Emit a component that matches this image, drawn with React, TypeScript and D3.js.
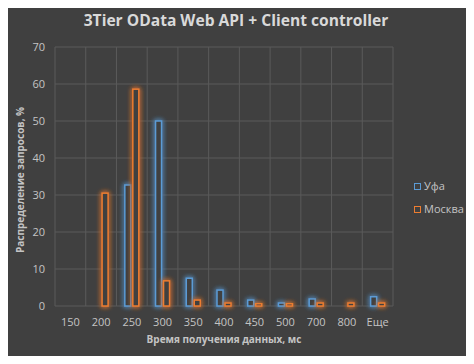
import { useEffect, useRef } from 'react'
import * as d3 from 'd3'

const categories = ['150', '200', '250', '300', '350', '400', '450', '500', '700', '800', 'Еще']
const ufa = [0, 0, 32.7, 50, 7.5, 4.3, 1.6, 0.8, 1.9, 0, 2.5]
const moscow = [0, 30.5, 58.6, 6.8, 1.6, 0.8, 0.6, 0.6, 0.8, 0.8, 0.8]
const seriesNames = ['Уфа', 'Москва']
const colors = ['#5B9BD5', '#ED7D31']
const yTicks = [0, 10, 20, 30, 40, 50, 60, 70]

const W = 474
const H = 364

export default function App() {
  const svgRef = useRef<SVGSVGElement>(null)

  useEffect(() => {
    const svg = d3.select(svgRef.current!)
    svg.selectAll('*').remove()

    const margin = { top: 47, right: 81, bottom: 58, left: 55 }
    const innerW = W - margin.left - margin.right
    const innerH = H - margin.top - margin.bottom
    const font = "'Open Sans', sans-serif"

    svg.append('rect').attr('width', W).attr('height', H).attr('fill', '#404040')

    // soft glow around the bars
    const defs = svg.append('defs')
    colors.forEach((c, i) => {
      const f = defs.append('filter').attr('id', `glow${i}`)
        .attr('x', '-100%').attr('y', '-20%').attr('width', '300%').attr('height', '140%')
      f.append('feGaussianBlur').attr('in', 'SourceGraphic').attr('stdDeviation', 2.8).attr('result', 'b')
      const m = f.append('feMerge')
      m.append('feMergeNode').attr('in', 'b')
      m.append('feMergeNode').attr('in', 'b')
      m.append('feMergeNode').attr('in', 'SourceGraphic')
    })

    const x = d3.scaleBand().domain(categories).range([0, innerW])
    const y = d3.scaleLinear().domain([0, 70]).range([innerH, 0])

    const g = svg.append('g').attr('transform', `translate(${margin.left},${margin.top})`)

    // Gridlines
    g.append('g')
      .selectAll('line')
      .data(yTicks)
      .join('line')
      .attr('x1', 0).attr('x2', innerW)
      .attr('y1', d => y(d)).attr('y2', d => y(d))
      .style('stroke', '#5a5a5a').style('stroke-width', 1)

    const vLines = [...categories.map(c => x(c)!), innerW]
    g.append('g')
      .selectAll('line')
      .data(vLines)
      .join('line')
      .attr('x1', d => d).attr('x2', d => d)
      .attr('y1', 0).attr('y2', innerH)
      .style('stroke', '#5a5a5a').style('stroke-width', 1)

    // Y axis labels
    g.append('g')
      .selectAll('text')
      .data(yTicks)
      .join('text')
      .attr('x', -10)
      .attr('y', d => y(d))
      .attr('dy', '0.35em')
      .attr('text-anchor', 'end')
      .style('fill', '#c4c4c4')
      .style('font-size', '11px')
      .style('font-family', font)
      .text(d => d)

    // X axis labels
    g.append('g')
      .selectAll('text')
      .data(categories)
      .join('text')
      .attr('x', d => x(d)! + x.bandwidth() / 2)
      .attr('y', innerH + 16)
      .attr('dy', '0.35em')
      .attr('text-anchor', 'middle')
      .style('fill', '#c4c4c4')
      .style('font-size', '11px')
      .style('font-family', font)
      .text(d => d)

    // Bars
    const barW = 6
    const gap = 2
    const series = [ufa, moscow]
    series.forEach((vals, si) => {
      const off = si === 0 ? -gap / 2 - barW : gap / 2
      g.append('g')
        .attr('filter', `url(#glow${si})`)
        .selectAll('rect')
        .data(vals.map((v, i) => ({ v, c: categories[i] })).filter(d => d.v > 0))
        .join('rect')
        .attr('x', d => x(d.c)! + x.bandwidth() / 2 + off)
        .attr('y', d => y(d.v))
        .attr('width', barW)
        .attr('height', d => innerH - y(d.v))
        .style('fill', '#404040')
        .style('stroke', colors[si])
        .style('stroke-width', 1.5)
    })

    // Title
    svg.append('text')
      .attr('x', 236)
      .attr('y', 26)
      .attr('text-anchor', 'middle')
      .style('fill', '#d9d9d9')
      .style('font-size', '15.6px')
      .style('font-weight', 'bold')
      .style('font-family', font)
      .text('3Tier OData Web API + Client controller')

    // Axis titles
    svg.append('text')
      .attr('x', margin.left + innerW / 2)
      .attr('y', 339)
      .attr('dy', '0.35em')
      .attr('text-anchor', 'middle')
      .style('fill', '#c4c4c4')
      .style('font-size', '10px')
      .style('font-weight', 'bold')
      .style('font-family', font)
      .text('Время получения данных, мс')

    svg.append('text')
      .attr('transform', 'translate(20,180) rotate(-90)')
      .attr('dy', '0.35em')
      .attr('text-anchor', 'middle')
      .style('fill', '#c4c4c4')
      .style('font-size', '10px')
      .style('font-weight', 'bold')
      .style('font-family', font)
      .text('Распределение запросов, %')

    // Legend
    const lg = svg.append('g').attr('transform', 'translate(414,183)')
    seriesNames.forEach((name, i) => {
      const row = lg.append('g').attr('transform', `translate(0,${i * 23})`)
      row.append('rect')
        .attr('x', 0.5).attr('y', 0.5).attr('width', 6).attr('height', 6)
        .style('fill', 'none').style('stroke', colors[i]).style('stroke-width', 1)
      row.append('text')
        .attr('x', 10).attr('y', 3.5).attr('dy', '0.35em')
        .style('fill', '#c4c4c4')
        .style('font-size', '11px')
        .style('font-family', font)
        .text(name)
    })
  }, [])

  return (
    <div style={{ margin: -8 }}>
      <svg ref={svgRef} width={W} height={H} style={{ display: 'block' }} />
    </div>
  )
}
